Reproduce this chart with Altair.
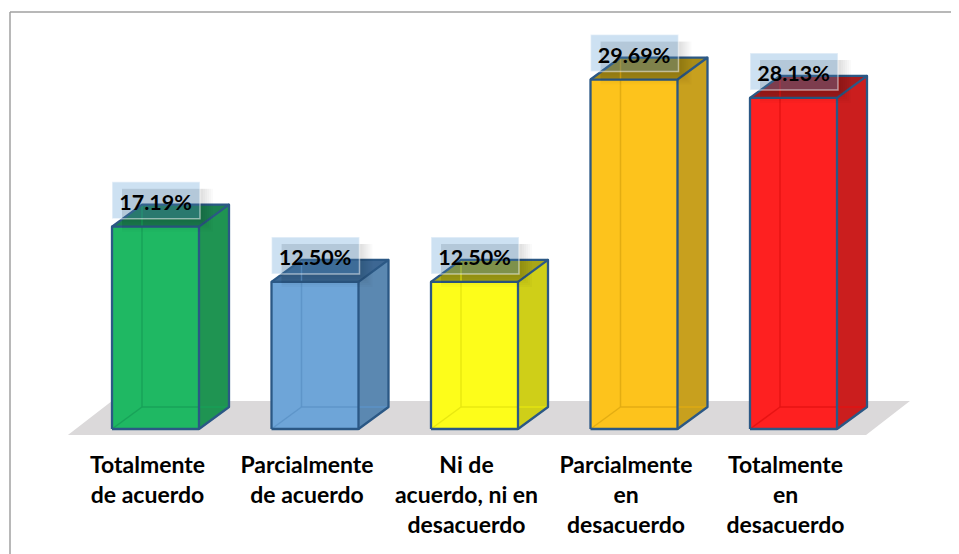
import altair as alt
import pandas as pd

categories = ["Totalmente\nde acuerdo", "Parcialmente\nde acuerdo", "Ni de\nacuerdo, ni en\ndesacuerdo",
              "Parcialmente\nen\ndesacuerdo", "Totalmente\nen\ndesacuerdo"]
values = [17.19, 12.50, 12.50, 29.69, 28.13]
labels = ["17.19%", "12.50%", "12.50%", "29.69%", "28.13%"]
front_colors = ["#1fb863", "#6ea5d8", "#fdfd1a", "#fdc31c", "#fe2020"]
side_colors = ["#1f9452", "#5b88b1", "#cfcf18", "#c8a01e", "#cb1e1e"]
top_colors = ["#1c7f50", "#3d6793", "#a8a617", "#a98c17", "#a51c1c"]
inner_colors = ["#17a058", "#5c93c8", "#e6e60f", "#e0ab12", "#e41212"]

W, H = 941, 542
PX = 159.5          # px per category
PY = 11.77          # px per percent
HW = 43.5 / PX      # half bar width
DX = 30 / PX        # depth in x
DY = 22 / PY        # depth in y
xdom = [-145.5 / PX, 795.5 / PX]
ydom = [-125 / PY, 417 / PY]
X = alt.X("x:Q", scale=alt.Scale(domain=xdom, nice=False, zero=False), axis=None)
Y = alt.Y("y:Q", scale=alt.Scale(domain=ydom, nice=False, zero=False), axis=None)
Y2 = alt.Y2("y2:Q")

floor = pd.DataFrame({"x": [-0.549, -0.273, 4.455, 4.730],
                      "y": [-0.51, -0.51, -0.51, 2.38],
                      "y2": [-0.51, 2.38, 2.38, 2.38]})

side, top, front, inner, edge, boxes, shadow = [], [], [], [], [], [], []
for i, v in enumerate(values):
    l, r = i - HW, i + HW
    side += [dict(x=r, y=0, y2=v, c=side_colors[i]),
             dict(x=r + DX, y=DY, y2=v + DY, c=side_colors[i])]
    top += [dict(x=l, y=v, y2=v, c=top_colors[i]),
            dict(x=l + DX, y=v, y2=v + DY, c=top_colors[i]),
            dict(x=r, y=v, y2=v + DY, c=top_colors[i]),
            dict(x=r + DX, y=v + DY, y2=v + DY, c=top_colors[i])]
    front.append(dict(x=l, x2=r, y=0, y2=v, c=front_colors[i]))
    for k, pts in enumerate([[(l + DX, DY), (l + DX, v + DY)],
                             [(l, 0), (l + DX, DY)],
                             [(l + DX, DY), (r + DX, DY)]]):
        for s, (px, py) in enumerate(pts):
            inner.append(dict(id=f"{i}-{k}", o=s, x=px, y=py, c=inner_colors[i]))
    path = [(l, 0), (l, v), (r, v), (r, 0), (l, 0)]
    side_path = [(r, 0), (r + DX, DY), (r + DX, v + DY), (r, v)]
    top_path = [(l, v), (l + DX, v + DY), (r + DX, v + DY)]
    for k, p in enumerate([path, side_path, top_path]):
        for s, (px, py) in enumerate(p):
            edge.append(dict(id=f"{i}-{k}", o=s, x=px, y=py))
    boxes.append(dict(x=l, x2=r + 1 / PX, y=v + 8 / PY, y2=v + 45 / PY, t=labels[i],
                      tx=i, ty=v + 23 / PY))
    for g in (1, 3, 5, 7, 9, 11, 13):
        shadow.append(dict(x=l + 10 / PX, x2=r + (1 + g) / PX,
                           y=v + (8 - g) / PY, y2=v + 38 / PY))

cat = pd.DataFrame({"x": [i - 8 / PX for i in range(5)],
                    "y": [-26 / PY] * 5,
                    "t": categories})

floor_l = alt.Chart(floor).mark_area(color="#dbd9da").encode(x=X, y=Y, y2=Y2)
side_l = alt.Chart(pd.DataFrame(side)).mark_area().encode(x=X, y=Y, y2=Y2, color=alt.Color("c:N", scale=None))
top_l = alt.Chart(pd.DataFrame(top)).mark_area().encode(x=X, y=Y, y2=Y2, color=alt.Color("c:N", scale=None))
front_l = alt.Chart(pd.DataFrame(front)).mark_rect().encode(
    x=X, x2="x2:Q", y=Y, y2=Y2, color=alt.Color("c:N", scale=None))
inner_l = alt.Chart(pd.DataFrame(inner)).mark_line(strokeWidth=1.5, opacity=0.9).encode(
    x=X, y=Y, detail="id:N", order="o:Q", color=alt.Color("c:N", scale=None))
edge_l = alt.Chart(pd.DataFrame(edge)).mark_line(strokeWidth=2.3, color="#2b5885", strokeJoin="round").encode(
    x=X, y=Y, detail="id:N", order="o:Q")
shadow_l = alt.Chart(pd.DataFrame(shadow)).mark_rect(color="#000000", opacity=0.02).encode(
    x=X, x2="x2:Q", y=Y, y2=Y2)
box_l = alt.Chart(pd.DataFrame(boxes)).mark_rect(
    fill="#5b9bd5", fillOpacity=0.3, stroke="#ffffff", strokeOpacity=0.5, strokeWidth=1.5).encode(
    x=X, x2="x2:Q", y=Y, y2=Y2)
lab_l = alt.Chart(pd.DataFrame(boxes)).mark_text(
    font="Lato", fontWeight="bold", fontSize=21.5, color="#000000", baseline="middle").encode(
    x=alt.X("tx:Q", scale=alt.Scale(domain=xdom, nice=False, zero=False), axis=None),
    y=alt.Y("ty:Q", scale=alt.Scale(domain=ydom, nice=False, zero=False), axis=None),
    text="t:N")
cat_l = alt.Chart(cat).mark_text(
    font="Lato", fontWeight="bold", fontSize=23, color="#000000", baseline="top",
    lineBreak="\n", lineHeight=30).encode(x=X, y=Y, text="t:N")
frame_top = alt.Chart(pd.DataFrame({"a": [0]})).mark_rule(color="#a0a0a0", strokeWidth=1.5).encode(
    x=alt.value(0), x2=alt.value(W), y=alt.value(0))
frame_left = alt.Chart(pd.DataFrame({"a": [0]})).mark_rule(color="#a0a0a0", strokeWidth=1.5).encode(
    x=alt.value(0), y=alt.value(0), y2=alt.value(H))

chart = alt.layer(
    frame_top, frame_left, floor_l, side_l, top_l, front_l, inner_l, edge_l, shadow_l, box_l, lab_l, cat_l
).properties(
    width=W, height=H, padding={"left": 2, "top": 4, "right": 0, "bottom": 0},
    autosize=alt.AutoSizeParams(type="none"), background="#ffffff"
).configure_view(stroke=None)

chart.save("out.html", embed_options={"renderer": "svg", "actions": False})
